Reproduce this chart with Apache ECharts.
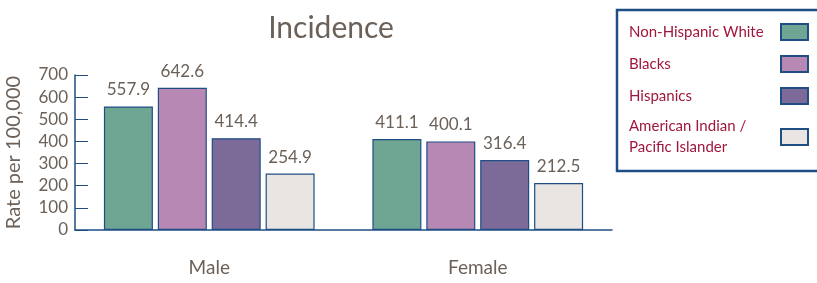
<!DOCTYPE html>
<html>
<head>
<meta charset="utf-8">
<script src="https://cdn.jsdelivr.net/npm/echarts@6/dist/echarts.min.js"></script>
<style>
  html, body { margin: 0; padding: 0; background: #fff; }
  #chart { width: 817px; height: 283px; }
</style>
</head>
<body>
<div id="chart"></div>
<script>
const categories = ["Male", "Female"];
const seriesNames = ["Non-Hispanic White", "Blacks", "Hispanics", "American Indian / Pacific Islander"];
const whiteVals = [557.9, 411.1];
const blackVals = [642.6, 400.1];
const hispanicVals = [414.4, 316.4];
const aianVals = [254.9, 212.5];
const yTicks = [0, 100, 200, 300, 400, 500, 600, 700];

const colors = ["#6ea593", "#b888b5", "#7c6b98", "#e8e5e2"];
const axisBlue = "#1f4e85";
const textGray = "#6b6158";
const fontFam = "Lato, 'Noto Sans', sans-serif";

const chart = echarts.init(document.getElementById("chart"));

const allVals = [whiteVals, blackVals, hispanicVals, aianVals];

const option = {
  animation: false,
  title: {
    text: "Incidence",
    left: 326,
    textAlign: "center",
    top: 8,
    textStyle: { color: textGray, fontSize: 30, fontWeight: "normal", fontFamily: fontFam },
  },
  legend: {
    orient: "vertical",
    left: 617,
    top: 10,
    align: "right",
    selectedMode: false,
    itemWidth: 27,
    itemHeight: 16,
    itemGap: 14,
    padding: [13, 12, 16, 12],
    borderColor: axisBlue,
    borderWidth: 2.5,
    icon: "rect",
    formatter: function (name) {
      return "{t|" + name.replace(" / ", " /\n") + "}";
    },
    textStyle: {
      color: "#a0173c",
      fontSize: 15,
      fontFamily: fontFam,
      rich: {
        t: {
          color: "#a0173c",
          fontSize: 15,
          lineHeight: 21,
          width: 147,
          align: "left",
          fontFamily: fontFam,
        },
      },
    },
    data: seriesNames,
  },
  grid: { left: 75, top: 75, right: 205, bottom: 53, outerBoundsMode: "none" },
  xAxis: {
    type: "category",
    data: categories,
    axisLine: { lineStyle: { color: axisBlue, width: 1.5 } },
    axisTick: { inside: true, length: 5, lineStyle: { color: axisBlue } },
    axisLabel: { color: textGray, fontSize: 19, margin: 28, fontFamily: fontFam },
  },
  yAxis: {
    type: "value",
    min: yTicks[0],
    max: yTicks[yTicks.length - 1],
    interval: 100,
    name: "Rate per 100,000",
    nameLocation: "middle",
    nameGap: 51,
    nameTextStyle: { color: textGray, fontSize: 20, fontFamily: fontFam },
    axisLine: { show: true, lineStyle: { color: axisBlue, width: 1.5 } },
    axisTick: { show: true, inside: true, length: 13, lineStyle: { color: axisBlue } },
    axisLabel: { color: textGray, fontSize: 17, margin: 7, fontFamily: fontFam },
    splitLine: { show: false },
  },
  series: seriesNames.map((name, i) => ({
    name: name,
    type: "bar",
    data: allVals[i],
    barWidth: 49,
    barGap: "10%",
    itemStyle: { color: colors[i], borderColor: axisBlue, borderWidth: 1.2 },
    label: {
      show: true,
      position: "top",
      distance: 8,
      color: textGray,
      fontSize: 17,
      fontFamily: fontFam,
      formatter: (p) => p.value.toFixed(1),
    },
  })),
};

chart.setOption(option);
window.addEventListener("resize", () => chart.resize());
</script>
</body>
</html>
